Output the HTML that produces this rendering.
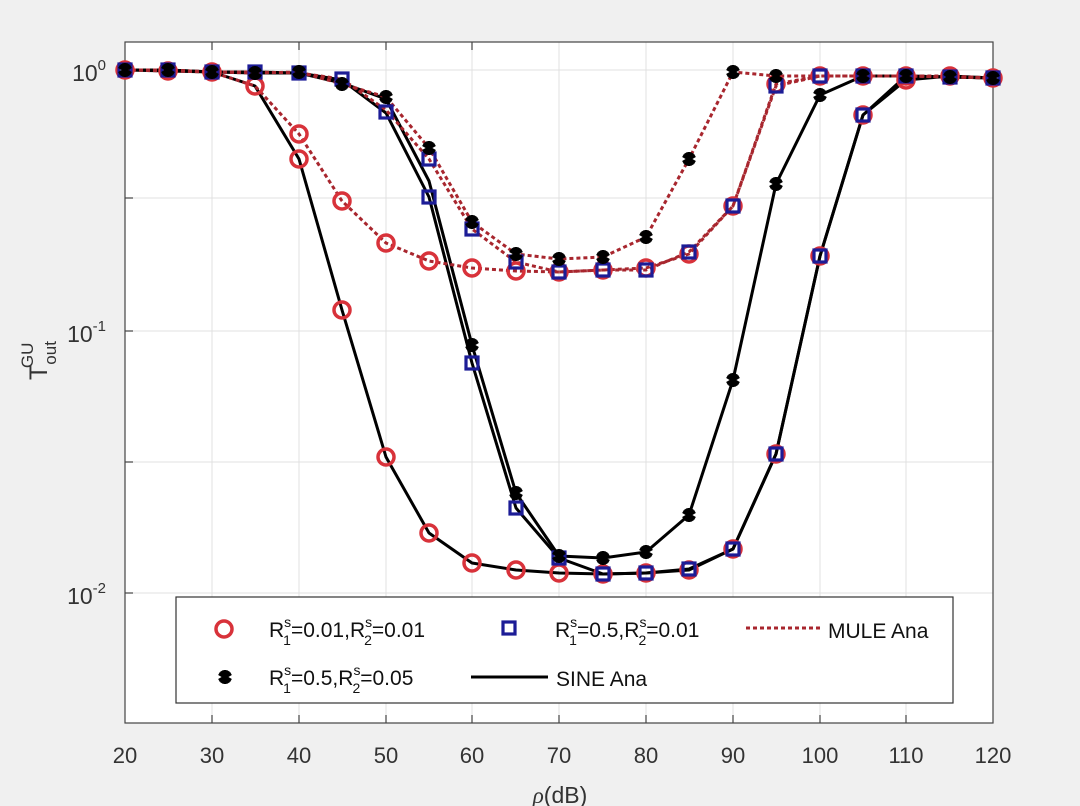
<!DOCTYPE html><html><head><meta charset="utf-8"><style>body{margin:0;background:#f0f0f0}svg{display:block;font-family:"Liberation Sans",sans-serif}</style></head><body>
<svg width="1080" height="806" viewBox="0 0 1080 806" xmlns="http://www.w3.org/2000/svg">
<rect width="1080" height="806" fill="#f0f0f0"/>
<rect x="125" y="42" width="868" height="681" fill="#fff"/>
<g stroke="#e0e0e0" stroke-width="1">
<line x1="212" y1="42" x2="212" y2="723"/><line x1="299" y1="42" x2="299" y2="723"/><line x1="386" y1="42" x2="386" y2="723"/><line x1="472" y1="42" x2="472" y2="723"/><line x1="559" y1="42" x2="559" y2="723"/><line x1="646" y1="42" x2="646" y2="723"/><line x1="733" y1="42" x2="733" y2="723"/><line x1="820" y1="42" x2="820" y2="723"/><line x1="906" y1="42" x2="906" y2="723"/>
<line x1="125" y1="70" x2="993" y2="70"/><line x1="125" y1="198" x2="993" y2="198"/><line x1="125" y1="331" x2="993" y2="331"/><line x1="125" y1="462" x2="993" y2="462"/><line x1="125" y1="593" x2="993" y2="593"/>
</g>
<rect x="125" y="42" width="868" height="681" fill="none" stroke="#444" stroke-width="1.2"/>
<g stroke="#444" stroke-width="1.2">
<line x1="125" y1="70" x2="133" y2="70"/><line x1="125" y1="198" x2="133" y2="198"/><line x1="125" y1="331" x2="133" y2="331"/><line x1="125" y1="462" x2="133" y2="462"/><line x1="125" y1="593" x2="133" y2="593"/>
<line x1="212" y1="723" x2="212" y2="715"/><line x1="299" y1="723" x2="299" y2="715"/><line x1="386" y1="723" x2="386" y2="715"/><line x1="472" y1="723" x2="472" y2="715"/><line x1="559" y1="723" x2="559" y2="715"/><line x1="646" y1="723" x2="646" y2="715"/><line x1="733" y1="723" x2="733" y2="715"/><line x1="820" y1="723" x2="820" y2="715"/><line x1="906" y1="723" x2="906" y2="715"/>
<line x1="212" y1="42" x2="212" y2="50"/><line x1="299" y1="42" x2="299" y2="50"/><line x1="386" y1="42" x2="386" y2="50"/><line x1="472" y1="42" x2="472" y2="50"/>
</g>
<g fill="#333" font-size="22" text-anchor="middle">
<text x="125" y="763">20</text><text x="212" y="763">30</text><text x="299" y="763">40</text><text x="386" y="763">50</text><text x="472" y="763">60</text><text x="559" y="763">70</text><text x="646" y="763">80</text><text x="733" y="763">90</text><text x="820" y="763">100</text><text x="906" y="763">110</text><text x="993" y="763">120</text>
<text x="560" y="803" font-size="23"><tspan font-style="italic" font-family="Liberation Serif">ρ</tspan>(dB)</text>
</g>
<g fill="#333" font-size="23" text-anchor="end">
<text x="106" y="81">10<tspan font-size="15" dy="-11">0</tspan></text>
<text x="106" y="342">10<tspan font-size="15" dy="-11">-1</tspan></text>
<text x="106" y="604">10<tspan font-size="15" dy="-11">-2</tspan></text>
</g>
<text transform="translate(47,380) rotate(-90)" fill="#333" font-size="25">T<tspan font-size="17" dy="9">out</tspan><tspan font-size="17" dx="-27" dy="-23">GU</tspan></text>
<g fill="none" stroke-linejoin="round">
<polyline stroke="#000" stroke-width="3" points="125,70 168,71 212,72 255,86 299,159 342,310 386,457 429,533 472,563 516,570 559,573 603,574 646,573 689,570 733,549 776,454 820,256 863,115 906,80 950,76 993,78"/>
<polyline stroke="#000" stroke-width="3" points="125,70 168,70 212,72 255,72 299,73 342,80 386,113 429,197 472,363 516,508 559,558 603,574 646,573 689,569 733,549 776,454 820,256 863,115 906,76 950,77 993,78"/>
<polyline stroke="#000" stroke-width="3" points="125,70 168,70 212,72 255,73 299,73 342,83 386,99 429,181 472,345 516,493 559,556 603,558 646,552 689,515 733,380 776,184 820,95 863,76 906,76 950,77 993,78"/>
<polyline stroke="#a8262e" stroke-width="3" stroke-dasharray="4 3" points="125,70 168,71 212,72 255,86 299,134 342,201 386,243 429,261 472,268 516,271 559,272 603,270 646,268 689,254 733,206 776,84 820,76 863,76 906,76 950,76 993,78"/>
<polyline stroke="#a8262e" stroke-width="3" stroke-dasharray="4 3" points="125,70 168,70 212,72 255,72 299,73 342,79 386,110 429,159 472,229 516,262 559,272 603,270 646,270 689,252 733,206 776,86 820,76 863,76 906,76 950,77 993,78"/>
<polyline stroke="#a8262e" stroke-width="3" stroke-dasharray="4 3" points="125,70 168,70 212,72 255,73 299,72 342,84 386,97 429,148 472,222 516,254 559,259 603,257 646,237 689,159 733,72 776,76 820,76 863,76 906,76 950,77 993,78"/>
</g>
<defs>
<g id="c"><circle r="8" fill="none" stroke="#d8323a" stroke-width="3.5"/></g>
<g id="s"><rect x="-6" y="-6" width="12" height="12" fill="none" stroke="#1c1c96" stroke-width="3.2"/></g>
<g id="a" stroke="#000" stroke-width="3.4"><line x1="0" y1="-7" x2="0" y2="7"/><line x1="-6" y1="-3.5" x2="6" y2="3.5"/><line x1="-6" y1="3.5" x2="6" y2="-3.5"/><line x1="-3.5" y1="-6" x2="3.5" y2="6"/><line x1="3.5" y1="-6" x2="-3.5" y2="6"/></g>
</defs>
<g>
<use href="#c" x="125" y="70"/><use href="#c" x="168" y="71"/><use href="#c" x="212" y="72"/><use href="#c" x="255" y="86"/><use href="#c" x="299" y="134"/><use href="#c" x="342" y="201"/><use href="#c" x="386" y="243"/><use href="#c" x="429" y="261"/><use href="#c" x="472" y="268"/><use href="#c" x="516" y="271"/><use href="#c" x="559" y="272"/><use href="#c" x="603" y="270"/><use href="#c" x="646" y="268"/><use href="#c" x="689" y="254"/><use href="#c" x="733" y="206"/><use href="#c" x="776" y="84"/><use href="#c" x="820" y="76"/><use href="#c" x="863" y="76"/><use href="#c" x="906" y="76"/><use href="#c" x="950" y="76"/><use href="#c" x="993" y="78"/>
<use href="#c" x="299" y="159"/><use href="#c" x="342" y="310"/><use href="#c" x="386" y="457"/><use href="#c" x="429" y="533"/><use href="#c" x="472" y="563"/><use href="#c" x="516" y="570"/><use href="#c" x="559" y="573"/><use href="#c" x="603" y="574"/><use href="#c" x="646" y="573"/><use href="#c" x="689" y="570"/><use href="#c" x="733" y="549"/><use href="#c" x="776" y="454"/><use href="#c" x="820" y="256"/><use href="#c" x="863" y="115"/><use href="#c" x="906" y="80"/>
<use href="#s" x="125" y="70"/><use href="#s" x="168" y="70"/><use href="#s" x="212" y="72"/><use href="#s" x="255" y="72"/><use href="#s" x="299" y="73"/><use href="#s" x="342" y="79"/><use href="#s" x="386" y="112"/><use href="#s" x="429" y="159"/><use href="#s" x="472" y="229"/><use href="#s" x="516" y="262"/><use href="#s" x="559" y="272"/><use href="#s" x="603" y="270"/><use href="#s" x="646" y="270"/><use href="#s" x="689" y="252"/><use href="#s" x="733" y="206"/><use href="#s" x="776" y="86"/><use href="#s" x="820" y="76"/><use href="#s" x="863" y="76"/><use href="#s" x="906" y="76"/><use href="#s" x="950" y="77"/><use href="#s" x="993" y="78"/>
<use href="#s" x="429" y="197"/><use href="#s" x="472" y="363"/><use href="#s" x="516" y="508"/><use href="#s" x="559" y="558"/><use href="#s" x="603" y="574"/><use href="#s" x="646" y="573"/><use href="#s" x="689" y="569"/><use href="#s" x="733" y="549"/><use href="#s" x="776" y="454"/><use href="#s" x="820" y="256"/><use href="#s" x="863" y="115"/>
<use href="#a" x="125" y="70"/><use href="#a" x="168" y="70"/><use href="#a" x="212" y="72"/><use href="#a" x="255" y="73"/><use href="#a" x="299" y="72"/><use href="#a" x="342" y="84"/><use href="#a" x="386" y="97"/><use href="#a" x="429" y="148"/><use href="#a" x="472" y="222"/><use href="#a" x="516" y="254"/><use href="#a" x="559" y="259"/><use href="#a" x="603" y="257"/><use href="#a" x="646" y="237"/><use href="#a" x="689" y="159"/><use href="#a" x="733" y="72"/><use href="#a" x="776" y="76"/><use href="#a" x="863" y="76"/><use href="#a" x="906" y="76"/><use href="#a" x="950" y="77"/><use href="#a" x="993" y="78"/>
<use href="#a" x="472" y="345"/><use href="#a" x="516" y="493"/><use href="#a" x="559" y="556"/><use href="#a" x="603" y="558"/><use href="#a" x="646" y="552"/><use href="#a" x="689" y="515"/><use href="#a" x="733" y="380"/><use href="#a" x="776" y="184"/><use href="#a" x="820" y="95"/>
</g>
<rect x="176" y="597" width="777" height="106" fill="#fff" stroke="#333" stroke-width="1.2"/>
<use href="#c" x="224" y="629"/>
<use href="#s" x="509" y="628"/>
<use href="#a" x="225" y="677"/>
<line x1="746" y1="628" x2="822" y2="628" stroke="#a8262e" stroke-width="3" stroke-dasharray="4 3"/>
<line x1="471" y1="677" x2="548" y2="677" stroke="#000" stroke-width="3"/>
<g font-size="21" fill="#111">
<text x="269" y="637">R<tspan font-size="14" dy="-10">s</tspan><tspan font-size="14" dx="-8" dy="18">1</tspan><tspan dy="-8">=0.01,R</tspan><tspan font-size="14" dy="-10">s</tspan><tspan font-size="14" dx="-8" dy="18">2</tspan><tspan dy="-8">=0.01</tspan></text>
<text x="555" y="637">R<tspan font-size="14" dy="-10">s</tspan><tspan font-size="14" dx="-8" dy="18">1</tspan><tspan dy="-8">=0.5,R</tspan><tspan font-size="14" dy="-10">s</tspan><tspan font-size="14" dx="-8" dy="18">2</tspan><tspan dy="-8">=0.01</tspan></text>
<text x="828" y="638">MULE Ana</text>
<text x="269" y="685">R<tspan font-size="14" dy="-10">s</tspan><tspan font-size="14" dx="-8" dy="18">1</tspan><tspan dy="-8">=0.5,R</tspan><tspan font-size="14" dy="-10">s</tspan><tspan font-size="14" dx="-8" dy="18">2</tspan><tspan dy="-8">=0.05</tspan></text>
<text x="556" y="686">SINE Ana</text>
</g>
</svg>
</body></html>
